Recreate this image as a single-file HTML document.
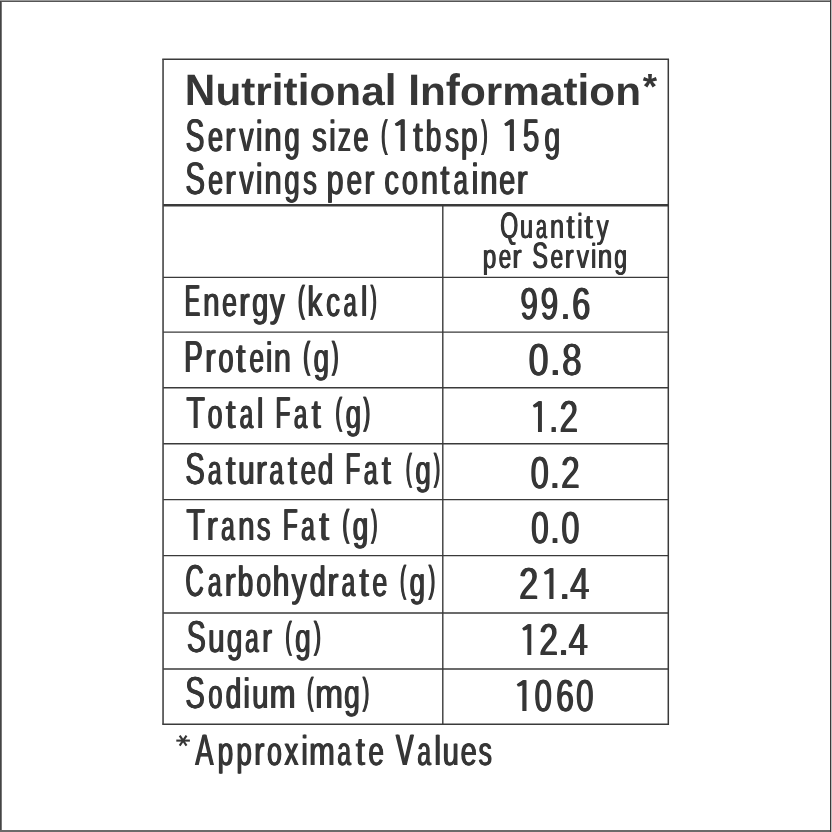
<!DOCTYPE html>
<html><head><meta charset="utf-8"><style>
html,body{margin:0;padding:0;background:#fff;}
body{width:832px;height:832px;overflow:hidden;position:relative;}
svg{position:absolute;left:0;top:0;display:block;will-change:transform;}
text{font-family:"Liberation Sans",sans-serif;text-rendering:geometricPrecision;}
</style></head><body>
<svg width="832" height="832" viewBox="0 0 832 832">
<rect x="0" y="0" width="832" height="832" fill="#fff"/>
<rect x="0" y="0" width="832" height="1" fill="#9a9a9a"/>
<rect x="0" y="1" width="832" height="1" fill="#555"/>
<rect x="0" y="1" width="1" height="831" fill="#444"/>
<rect x="1" y="2" width="1" height="828" fill="#777"/>
<rect x="0" y="830" width="830" height="2" fill="#6a6a6a"/>
<rect x="830" y="0" width="1" height="832" fill="#3a3a3a"/>
<rect x="831" y="0" width="1" height="832" fill="#bbb"/>
<line x1="162.25" y1="59.2" x2="669.05" y2="59.2" stroke="#3a3a3a" stroke-width="1.5"/>
<line x1="163.05" y1="205.3" x2="668.3" y2="205.3" stroke="#3a3a3a" stroke-width="2.5"/>
<line x1="163.05" y1="277.3" x2="668.3" y2="277.3" stroke="#3a3a3a" stroke-width="1.3"/>
<line x1="163.05" y1="332.1" x2="668.3" y2="332.1" stroke="#3a3a3a" stroke-width="1.4"/>
<line x1="163.05" y1="387.7" x2="668.3" y2="387.7" stroke="#3a3a3a" stroke-width="1.4"/>
<line x1="163.05" y1="443.8" x2="668.3" y2="443.8" stroke="#3a3a3a" stroke-width="1.4"/>
<line x1="163.05" y1="499.6" x2="668.3" y2="499.6" stroke="#3a3a3a" stroke-width="1.4"/>
<line x1="163.05" y1="555.6" x2="668.3" y2="555.6" stroke="#3a3a3a" stroke-width="1.4"/>
<line x1="163.05" y1="613.0" x2="668.3" y2="613.0" stroke="#3a3a3a" stroke-width="1.4"/>
<line x1="163.05" y1="669.0" x2="668.3" y2="669.0" stroke="#3a3a3a" stroke-width="1.4"/>
<line x1="162.25" y1="724.2" x2="669.05" y2="724.2" stroke="#3a3a3a" stroke-width="1.6"/>
<line x1="163.05" y1="59.2" x2="163.05" y2="724.2" stroke="#444" stroke-width="1.6"/>
<line x1="668.3" y1="59.2" x2="668.3" y2="724.2" stroke="#3a3a3a" stroke-width="1.5"/>
<line x1="442.8" y1="205.3" x2="442.8" y2="724.2" stroke="#3a3a3a" stroke-width="1.4"/>
<g id="t1" font-size="44.04" font-weight="bold" fill="#363636">
<text transform="translate(184.85,105.00) scale(0.960,1.000)">N</text>
<text transform="translate(215.40,105.00) scale(0.960,0.910)">u</text>
<text transform="translate(241.25,105.00) scale(0.960,0.910)">t</text>
<text transform="translate(255.35,105.00) scale(0.960,0.910)">r</text>
<text transform="translate(271.83,105.00) scale(0.960,1.000)">i</text>
<text transform="translate(283.59,105.00) scale(0.960,0.910)">t</text>
<text transform="translate(297.70,105.00) scale(0.960,1.000)">i</text>
<text transform="translate(309.46,105.00) scale(0.960,0.910)">o</text>
<text transform="translate(335.31,105.00) scale(0.960,0.910)">n</text>
<text transform="translate(361.16,105.00) scale(0.960,0.910)">a</text>
<text transform="translate(384.70,105.00) scale(0.960,1.000)">l</text>
<text transform="translate(408.23,105.00) scale(0.960,1.000)">I</text>
<text transform="translate(420.00,105.00) scale(0.960,0.910)">n</text>
<text transform="translate(445.85,105.00) scale(0.960,1.000)">f</text>
<text transform="translate(459.95,105.00) scale(0.960,0.910)">o</text>
<text transform="translate(485.80,105.00) scale(0.960,0.910)">r</text>
<text transform="translate(502.28,105.00) scale(0.960,0.910)">m</text>
<text transform="translate(539.89,105.00) scale(0.960,0.910)">a</text>
<text transform="translate(563.43,105.00) scale(0.960,0.910)">t</text>
<text transform="translate(577.53,105.00) scale(0.960,1.000)">i</text>
<text transform="translate(589.30,105.00) scale(0.960,0.910)">o</text>
<text transform="translate(615.15,105.00) scale(0.960,0.910)">n</text>
</g>
<text transform="translate(642.71,99.10) scale(1.010,1)" font-size="36.51" font-weight="bold" fill="#363636">*</text>
<g id="t2" font-size="45.79" fill="#363636">
<text transform="translate(184.93,151.00) scale(0.615,1.000)">S</text>
<text transform="translate(207.35,151.00) scale(0.590,0.920)">e</text>
<text transform="translate(224.52,151.00) scale(0.673,0.920)">r</text>
<text transform="translate(238.76,151.00) scale(0.620,0.920)">v</text>
<text transform="translate(255.29,151.00) scale(0.660,0.949)">i</text>
<text transform="translate(263.59,151.00) scale(0.682,0.920)">n</text>
<text transform="translate(283.84,151.00) scale(0.597,0.920)">g</text>
<text transform="translate(311.61,151.00) scale(0.629,0.920)">s</text>
<text transform="translate(328.49,151.00) scale(0.660,0.949)">i</text>
<text transform="translate(337.16,151.00) scale(0.570,0.920)">z</text>
<text transform="translate(352.85,151.00) scale(0.590,0.920)">e</text>
<text transform="translate(380.51,147.32) scale(0.416,0.839)">(</text>
<path transform="translate(389.19,151.00) scale(0.03651,0.04579)" d="M311 0L392 0L392 -688L321 -688L151 -597L183 -548L311 -586Z"/>
<text transform="translate(412.48,151.00) scale(0.754,0.920)">t</text>
<text transform="translate(425.07,151.00) scale(0.616,0.949)">b</text>
<text transform="translate(444.54,151.00) scale(0.607,0.920)">s</text>
<text transform="translate(460.14,151.00) scale(0.660,0.920)">p</text>
<text transform="translate(480.76,147.32) scale(0.408,0.839)">)</text>
<path transform="translate(498.94,151.00) scale(0.03485,0.04579)" d="M311 0L392 0L392 -688L321 -688L151 -597L183 -548L311 -586Z"/>
<text transform="translate(522.22,151.00) scale(0.646,1.000)">5</text>
<text transform="translate(543.79,151.00) scale(0.621,0.920)">g</text>
</g>
<use href="#t2" x="0.65"/>
<use href="#t2" x="1.30"/>
<g id="t3" font-size="45.64" fill="#363636">
<text transform="translate(184.78,194.00) scale(0.644,1.000)">S</text>
<text transform="translate(207.45,194.00) scale(0.592,0.920)">e</text>
<text transform="translate(224.59,194.00) scale(0.684,0.920)">r</text>
<text transform="translate(238.76,194.00) scale(0.622,0.920)">v</text>
<text transform="translate(255.30,194.00) scale(0.660,0.949)">i</text>
<text transform="translate(263.69,194.00) scale(0.685,0.920)">n</text>
<text transform="translate(283.63,194.00) scale(0.604,0.920)">g</text>
<text transform="translate(302.45,194.00) scale(0.601,0.920)">s</text>
<text transform="translate(325.92,194.00) scale(0.667,0.920)">p</text>
<text transform="translate(345.92,194.00) scale(0.611,0.920)">e</text>
<text transform="translate(363.68,194.00) scale(0.657,0.920)">r</text>
<text transform="translate(383.76,194.00) scale(0.637,0.920)">c</text>
<text transform="translate(401.27,194.00) scale(0.635,0.920)">o</text>
<text transform="translate(420.21,194.00) scale(0.679,0.920)">n</text>
<text transform="translate(439.81,194.00) scale(0.713,0.920)">t</text>
<text transform="translate(452.91,194.00) scale(0.560,0.920)">a</text>
<text transform="translate(471.05,194.00) scale(0.660,0.949)">i</text>
<text transform="translate(479.61,194.00) scale(0.679,0.920)">n</text>
<text transform="translate(498.46,194.00) scale(0.639,0.920)">e</text>
<text transform="translate(516.11,194.00) scale(0.710,0.920)">r</text>
</g>
<use href="#t3" x="0.65"/>
<use href="#t3" x="1.30"/>
<g id="t4" font-size="36.77" fill="#363636">
<text transform="translate(499.70,238.00) scale(0.628,1.000)">Q</text>
<text transform="translate(519.48,238.00) scale(0.637,0.920)">u</text>
<text transform="translate(535.47,238.00) scale(0.533,0.920)">a</text>
<text transform="translate(549.48,238.00) scale(0.692,0.920)">n</text>
<text transform="translate(566.08,238.00) scale(0.762,0.920)">t</text>
<text transform="translate(576.77,238.00) scale(0.660,0.949)">i</text>
<text transform="translate(583.85,238.00) scale(0.816,0.920)">t</text>
<text transform="translate(596.24,238.00) scale(0.645,0.920)">y</text>
</g>
<use href="#t4" x="0.53"/>
<use href="#t4" x="1.05"/>
<g id="t5" font-size="36.77" fill="#363636">
<text transform="translate(482.32,268.00) scale(0.662,0.920)">p</text>
<text transform="translate(498.25,268.00) scale(0.610,0.920)">e</text>
<text transform="translate(511.80,268.00) scale(0.767,0.920)">r</text>
<text transform="translate(531.86,268.00) scale(0.631,1.000)">S</text>
<text transform="translate(550.03,268.00) scale(0.622,0.920)">e</text>
<text transform="translate(564.33,268.00) scale(0.712,0.920)">r</text>
<text transform="translate(576.28,268.00) scale(0.663,0.920)">v</text>
<text transform="translate(590.42,268.00) scale(0.660,0.949)">i</text>
<text transform="translate(597.37,268.00) scale(0.698,0.920)">n</text>
<text transform="translate(613.82,268.00) scale(0.625,0.920)">g</text>
</g>
<use href="#t5" x="0.53"/>
<use href="#t5" x="1.05"/>
<g id="t6" font-size="44.77" fill="#363636">
<text transform="translate(184.10,316.00) scale(0.515,1.000)">E</text>
<text transform="translate(202.40,316.00) scale(0.661,0.920)">n</text>
<text transform="translate(221.57,316.00) scale(0.594,0.920)">e</text>
<text transform="translate(238.62,316.00) scale(0.688,0.920)">r</text>
<text transform="translate(251.46,316.00) scale(0.650,0.920)">g</text>
<text transform="translate(269.33,316.00) scale(0.654,0.920)">y</text>
<text transform="translate(297.34,312.40) scale(0.451,0.839)">(</text>
<text transform="translate(306.77,316.00) scale(0.671,0.949)">k</text>
<text transform="translate(325.52,316.00) scale(0.618,0.920)">c</text>
<text transform="translate(343.00,316.00) scale(0.523,0.920)">a</text>
<text transform="translate(360.26,316.00) scale(0.660,0.949)">l</text>
<text transform="translate(369.96,312.40) scale(0.408,0.839)">)</text>
</g>
<use href="#t6" x="0.65"/>
<use href="#t6" x="1.30"/>
<g id="t7" font-size="44.77" fill="#363636">
<text transform="translate(183.62,372.00) scale(0.617,1.000)">P</text>
<text transform="translate(204.62,372.00) scale(0.688,0.920)">r</text>
<text transform="translate(217.64,372.00) scale(0.610,0.920)">o</text>
<text transform="translate(235.61,372.00) scale(0.736,0.920)">t</text>
<text transform="translate(248.78,372.00) scale(0.589,0.920)">e</text>
<text transform="translate(265.26,372.00) scale(0.660,0.949)">i</text>
<text transform="translate(273.22,372.00) scale(0.687,0.920)">n</text>
<text transform="translate(302.61,368.40) scale(0.460,0.839)">(</text>
<text transform="translate(312.92,372.00) scale(0.620,0.920)">g</text>
<text transform="translate(331.35,368.40) scale(0.434,0.839)">)</text>
</g>
<use href="#t7" x="0.65"/>
<use href="#t7" x="1.30"/>
<g id="t8" font-size="44.77" fill="#363636">
<text transform="translate(185.72,428.00) scale(0.680,1.000)">T</text>
<text transform="translate(207.07,428.00) scale(0.596,0.920)">o</text>
<text transform="translate(225.18,428.00) scale(0.780,0.920)">t</text>
<text transform="translate(239.06,428.00) scale(0.545,0.920)">a</text>
<text transform="translate(256.26,428.00) scale(0.660,0.949)">l</text>
<text transform="translate(274.65,428.00) scale(0.554,1.000)">F</text>
<text transform="translate(293.28,428.00) scale(0.536,0.920)">a</text>
<text transform="translate(311.01,428.00) scale(0.736,0.920)">t</text>
<text transform="translate(334.74,424.40) scale(0.451,0.839)">(</text>
<text transform="translate(345.02,428.00) scale(0.620,0.920)">g</text>
<text transform="translate(362.85,424.40) scale(0.442,0.839)">)</text>
</g>
<use href="#t8" x="0.65"/>
<use href="#t8" x="1.30"/>
<g id="t9" font-size="44.77" fill="#363636">
<text transform="translate(184.69,484.00) scale(0.649,1.000)">S</text>
<text transform="translate(207.16,484.00) scale(0.549,0.920)">a</text>
<text transform="translate(225.18,484.00) scale(0.780,0.920)">t</text>
<text transform="translate(237.59,484.00) scale(0.657,0.920)">u</text>
<text transform="translate(255.26,484.00) scale(0.742,0.920)">r</text>
<text transform="translate(268.82,484.00) scale(0.567,0.920)">a</text>
<text transform="translate(287.31,484.00) scale(0.736,0.920)">t</text>
<text transform="translate(299.92,484.00) scale(0.623,0.920)">e</text>
<text transform="translate(317.32,484.00) scale(0.620,0.949)">d</text>
<text transform="translate(344.79,484.00) scale(0.545,1.000)">F</text>
<text transform="translate(363.16,484.00) scale(0.549,0.920)">a</text>
<text transform="translate(381.21,484.00) scale(0.727,0.920)">t</text>
<text transform="translate(405.18,480.40) scale(0.400,0.839)">(</text>
<text transform="translate(414.72,484.00) scale(0.620,0.920)">g</text>
<text transform="translate(433.16,480.40) scale(0.417,0.839)">)</text>
</g>
<use href="#t9" x="0.65"/>
<use href="#t9" x="1.30"/>
<g id="t10" font-size="44.77" fill="#363636">
<text transform="translate(185.72,540.00) scale(0.680,1.000)">T</text>
<text transform="translate(205.93,540.00) scale(0.751,0.920)">r</text>
<text transform="translate(220.46,540.00) scale(0.545,0.920)">a</text>
<text transform="translate(237.50,540.00) scale(0.661,0.920)">n</text>
<text transform="translate(256.15,540.00) scale(0.608,0.920)">s</text>
<text transform="translate(282.19,540.00) scale(0.545,1.000)">F</text>
<text transform="translate(300.56,540.00) scale(0.549,0.920)">a</text>
<text transform="translate(318.58,540.00) scale(0.780,0.920)">t</text>
<text transform="translate(341.84,536.40) scale(0.451,0.839)">(</text>
<text transform="translate(352.12,540.00) scale(0.620,0.920)">g</text>
<text transform="translate(370.56,536.40) scale(0.425,0.839)">)</text>
</g>
<use href="#t10" x="0.65"/>
<use href="#t10" x="1.30"/>
<g id="t11" font-size="44.77" fill="#363636">
<text transform="translate(184.73,596.00) scale(0.569,1.000)">C</text>
<text transform="translate(207.16,596.00) scale(0.549,0.920)">a</text>
<text transform="translate(224.06,596.00) scale(0.742,0.920)">r</text>
<text transform="translate(237.09,596.00) scale(0.620,0.949)">b</text>
<text transform="translate(255.78,596.00) scale(0.591,0.920)">o</text>
<text transform="translate(272.12,596.00) scale(0.665,0.949)">h</text>
<text transform="translate(290.92,596.00) scale(0.677,0.920)">y</text>
<text transform="translate(309.06,596.00) scale(0.650,0.949)">d</text>
<text transform="translate(326.66,596.00) scale(0.742,0.920)">r</text>
<text transform="translate(341.06,596.00) scale(0.545,0.920)">a</text>
<text transform="translate(358.69,596.00) scale(0.762,0.920)">t</text>
<text transform="translate(371.66,596.00) scale(0.599,0.920)">e</text>
<text transform="translate(399.38,592.40) scale(0.400,0.839)">(</text>
<text transform="translate(408.92,596.00) scale(0.620,0.920)">g</text>
<text transform="translate(427.95,592.40) scale(0.442,0.839)">)</text>
</g>
<use href="#t11" x="0.65"/>
<use href="#t11" x="1.30"/>
<g id="t12" font-size="44.77" fill="#363636">
<text transform="translate(186.32,652.00) scale(0.633,1.000)">S</text>
<text transform="translate(207.47,652.00) scale(0.662,0.920)">u</text>
<text transform="translate(226.32,652.00) scale(0.620,0.920)">g</text>
<text transform="translate(244.46,652.00) scale(0.545,0.920)">a</text>
<text transform="translate(261.50,652.00) scale(0.661,0.920)">r</text>
<text transform="translate(284.81,648.40) scale(0.425,0.839)">(</text>
<text transform="translate(294.51,652.00) scale(0.625,0.920)">g</text>
<text transform="translate(313.24,648.40) scale(0.477,0.839)">)</text>
</g>
<use href="#t12" x="0.65"/>
<use href="#t12" x="1.30"/>
<g id="t13" font-size="44.77" fill="#363636">
<text transform="translate(184.69,708.00) scale(0.649,1.000)">S</text>
<text transform="translate(207.72,708.00) scale(0.567,0.920)">o</text>
<text transform="translate(225.12,708.00) scale(0.620,0.949)">d</text>
<text transform="translate(242.76,708.00) scale(0.660,0.949)">i</text>
<text transform="translate(251.39,708.00) scale(0.657,0.920)">u</text>
<text transform="translate(269.12,708.00) scale(0.689,0.920)">m</text>
<text transform="translate(306.51,704.40) scale(0.425,0.839)">(</text>
<text transform="translate(314.43,708.00) scale(0.750,0.920)">m</text>
<text transform="translate(343.40,708.00) scale(0.630,0.920)">g</text>
<text transform="translate(362.05,704.40) scale(0.442,0.839)">)</text>
</g>
<use href="#t13" x="0.65"/>
<use href="#t13" x="1.30"/>
<g id="t14" font-size="44.62" fill="#363636">
<text transform="translate(519.70,319.00) scale(0.707,1.000)">9</text>
<text transform="translate(539.90,319.00) scale(0.707,1.000)">9</text>
<text transform="translate(559.69,319.00) scale(0.826,1.000)">.</text>
<text transform="translate(571.58,319.00) scale(0.727,1.000)">6</text>
</g>
<use href="#t14" x="0.65"/>
<use href="#t14" x="1.30"/>
<g id="t15" font-size="44.62" fill="#363636">
<text transform="translate(527.97,375.00) scale(0.803,1.000)">0</text>
<text transform="translate(549.10,375.00) scale(0.896,1.000)">.</text>
<text transform="translate(561.41,375.00) scale(0.787,1.000)">8</text>
</g>
<use href="#t15" x="0.65"/>
<use href="#t15" x="1.30"/>
<g id="t16" font-size="44.62" fill="#363636">
<path transform="translate(527.91,432.00) scale(0.03237,0.04462)" d="M311 0L392 0L392 -688L321 -688L151 -597L183 -548L311 -586Z"/>
<text transform="translate(548.48,432.00) scale(0.731,1.000)">.</text>
<text transform="translate(559.05,432.00) scale(0.739,1.000)">2</text>
</g>
<use href="#t16" x="0.65"/>
<use href="#t16" x="1.30"/>
<g id="t17" font-size="44.62" fill="#363636">
<text transform="translate(529.99,488.00) scale(0.732,1.000)">0</text>
<text transform="translate(549.09,488.00) scale(0.826,1.000)">.</text>
<text transform="translate(560.43,488.00) scale(0.749,1.000)">2</text>
</g>
<use href="#t17" x="0.65"/>
<use href="#t17" x="1.30"/>
<g id="t18" font-size="44.62" fill="#363636">
<text transform="translate(530.54,543.00) scale(0.709,1.000)">0</text>
<text transform="translate(549.19,543.00) scale(0.826,1.000)">.</text>
<text transform="translate(560.80,543.00) scale(0.727,1.000)">0</text>
</g>
<use href="#t18" x="0.65"/>
<use href="#t18" x="1.30"/>
<g id="t19" font-size="44.62" fill="#363636">
<text transform="translate(518.60,599.00) scale(0.763,1.000)">2</text>
<path transform="translate(538.54,599.00) scale(0.03485,0.04462)" d="M311 0L392 0L392 -688L321 -688L151 -597L183 -548L311 -586Z"/>
<text transform="translate(558.21,599.00) scale(0.944,1.000)">.</text>
<text transform="translate(569.52,599.00) scale(0.772,1.000)">4</text>
</g>
<use href="#t19" x="0.65"/>
<use href="#t19" x="1.30"/>
<g id="t20" font-size="44.62" fill="#363636">
<path transform="translate(517.31,655.00) scale(0.03237,0.04462)" d="M311 0L392 0L392 -688L321 -688L151 -597L183 -548L311 -586Z"/>
<text transform="translate(538.85,655.00) scale(0.739,1.000)">2</text>
<text transform="translate(557.59,655.00) scale(0.849,1.000)">.</text>
<text transform="translate(568.02,655.00) scale(0.777,1.000)">4</text>
</g>
<use href="#t20" x="0.65"/>
<use href="#t20" x="1.30"/>
<g id="t21" font-size="44.62" fill="#363636">
<path transform="translate(511.37,711.00) scale(0.03527,0.04462)" d="M311 0L392 0L392 -688L321 -688L151 -597L183 -548L311 -586Z"/>
<text transform="translate(533.96,711.00) scale(0.695,1.000)">0</text>
<text transform="translate(555.62,711.00) scale(0.707,1.000)">6</text>
<text transform="translate(575.55,711.00) scale(0.699,1.000)">0</text>
</g>
<use href="#t21" x="0.65"/>
<use href="#t21" x="1.30"/>
<g id="t22" font-size="43.90" fill="#363636">
<text transform="translate(194.73,765.00) scale(0.616,1.000)">A</text>
<text transform="translate(216.98,765.00) scale(0.638,0.920)">p</text>
<text transform="translate(235.69,765.00) scale(0.633,0.920)">p</text>
<text transform="translate(253.42,765.00) scale(0.702,0.920)">r</text>
<text transform="translate(266.38,765.00) scale(0.603,0.920)">o</text>
<text transform="translate(283.86,765.00) scale(0.628,0.920)">x</text>
<text transform="translate(300.73,765.00) scale(0.660,0.949)">i</text>
<text transform="translate(308.52,765.00) scale(0.703,0.920)">m</text>
<text transform="translate(336.66,765.00) scale(0.556,0.920)">a</text>
<text transform="translate(355.21,765.00) scale(0.742,0.920)">t</text>
<text transform="translate(367.82,765.00) scale(0.635,0.920)">e</text>
<text transform="translate(395.37,765.00) scale(0.599,1.000)">V</text>
<text transform="translate(416.66,765.00) scale(0.556,0.920)">a</text>
<text transform="translate(433.83,765.00) scale(0.660,0.949)">l</text>
<text transform="translate(442.00,765.00) scale(0.665,0.920)">u</text>
<text transform="translate(460.07,765.00) scale(0.659,0.920)">e</text>
<text transform="translate(477.97,765.00) scale(0.604,0.920)">s</text>
</g>
<use href="#t22" x="0.65"/>
<use href="#t22" x="1.30"/>
<g stroke="#363636" stroke-width="2.1"><line x1="176.30" y1="740.60" x2="189.90" y2="740.60"/><line x1="179.69" y1="735.54" x2="186.51" y2="745.66"/><line x1="179.69" y1="745.66" x2="186.51" y2="735.54"/></g>
</svg>
</body></html>
